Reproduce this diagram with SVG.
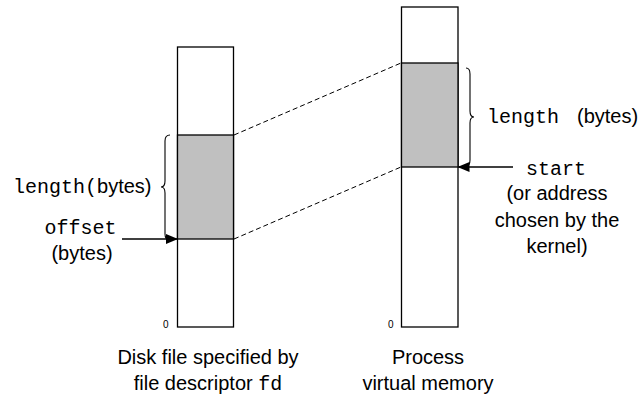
<svg xmlns="http://www.w3.org/2000/svg" width="640" height="407" viewBox="0 0 640 407">
<defs>
<style>
.box{fill:#fff;stroke:#000;stroke-width:1.3}
.shade{fill:#c0c0c0;stroke:#000;stroke-width:1.3}
.dash{fill:none;stroke:#000;stroke-width:1;stroke-dasharray:5,3}
.brace{fill:none;stroke:#000;stroke-width:1.1}
.arr{fill:none;stroke:#000;stroke-width:1.3}
.sans{font-family:"Liberation Sans",Arial,sans-serif;font-size:20px;fill:#000}
.mono{font-family:"Liberation Mono","Courier New",monospace;font-size:20px;fill:#000}
.small{font-family:"Liberation Sans",Arial,sans-serif;font-size:10px;fill:#000}
</style>
<marker id="ah" markerWidth="12" markerHeight="10" refX="11" refY="5" orient="auto" markerUnits="userSpaceOnUse">
<path d="M0,0 L12,5 L0,10 Z" fill="#000"/>
</marker>
</defs>
<g id="disk-file">
<rect class="box" x="177.5" y="47" width="56" height="280"/>
<rect class="shade" x="177.5" y="135" width="56" height="104"/>
<text class="small" x="163" y="328">0</text>
</g>
<g id="process-memory">
<rect class="box" x="401.5" y="7" width="56.5" height="320"/>
<rect class="shade" x="401.5" y="63" width="56.5" height="104"/>
<text class="small" x="388" y="328">0</text>
</g>
<g id="connectors">
<line class="dash" x1="234" y1="135" x2="401" y2="63"/>
<line class="dash" x1="234" y1="239" x2="401" y2="167"/>
<path class="brace" d="M170,135 Q165,135 165,141 L165,181 Q165,187 161,187 Q165,187 165,193 L165,234 Q165,240 170,240"/>
<path class="brace" d="M466,68 Q470,68 470,74 L470,111 Q470,117 474,117 Q470,117 470,123 L470,160 Q470,166 466,166"/>
<line class="arr" x1="122" y1="239" x2="177" y2="239" marker-end="url(#ah)"/>
<line class="arr" x1="513" y1="167" x2="458.5" y2="167" marker-end="url(#ah)"/>
</g>
<g id="left-labels">
<text x="13" y="193"><tspan class="mono">length(</tspan><tspan class="sans">bytes)</tspan></text>
<text class="mono" x="80.5" y="234" text-anchor="middle">offset</text>
<text class="sans" x="82" y="260" text-anchor="middle">(bytes)</text>
</g>
<g id="right-labels">
<text x="487" y="123"><tspan class="mono">length</tspan><tspan class="sans" x="577">(bytes)</tspan></text>
<text class="mono" x="556" y="175" text-anchor="middle">start</text>
<text class="sans" x="557" y="200" text-anchor="middle">(or address</text>
<text class="sans" x="557" y="227" text-anchor="middle">chosen by the</text>
<text class="sans" x="557" y="253" text-anchor="middle">kernel)</text>
</g>
<g id="captions">
<text class="sans" x="208" y="364" text-anchor="middle">Disk file specified by</text>
<text x="208" y="390" text-anchor="middle"><tspan class="sans">file descriptor </tspan><tspan class="mono">fd</tspan></text>
<text class="sans" x="428" y="364" text-anchor="middle">Process</text>
<text class="sans" x="428" y="390" text-anchor="middle">virtual memory</text>
</g>
</svg>
